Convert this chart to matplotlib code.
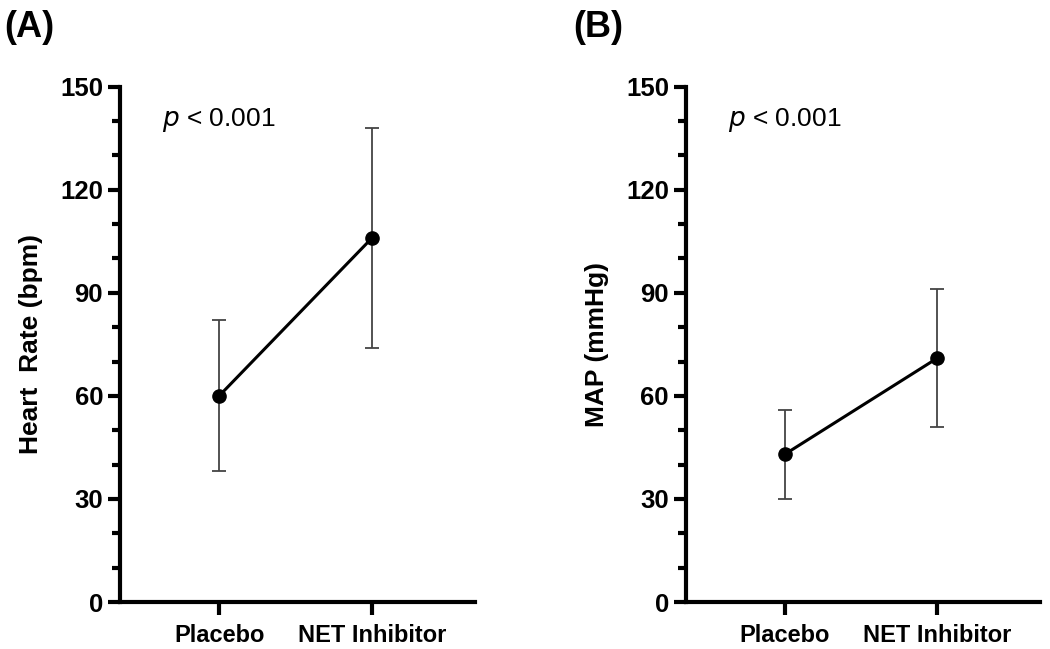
import matplotlib.pyplot as plt
from matplotlib.ticker import MultipleLocator

plt.rcParams["font.family"] = ["Liberation Sans", "DejaVu Sans"]

groups = ["Placebo", "NET Inhibitor"]
hr_mean = [60, 106]
hr_low = [38, 74]
hr_high = [82, 138]
map_mean = [43, 71]
map_low = [30, 51]
map_high = [56, 91]

fig = plt.figure(figsize=(10.5, 6.49), dpi=100)
ax_a = fig.add_axes([0.114, 0.0724, 0.338, 0.794])
ax_b = fig.add_axes([0.653, 0.0724, 0.337, 0.794])

panels = [
    (ax_a, hr_mean, hr_low, hr_high, "Heart  Rate (bpm)", "(A)", 0.004),
    (ax_b, map_mean, map_low, map_high, "MAP (mmHg)", "(B)", 0.546),
]

for ax, mean, low, high, ylab, tag, tx in panels:
    x = list(range(len(groups)))
    err = [[m - l for m, l in zip(mean, low)], [h - m for m, h in zip(mean, high)]]
    ax.errorbar(x, mean, yerr=err, fmt="none", ecolor="#444444", elinewidth=1.3,
                capsize=5, capthick=1.3, zorder=2)
    ax.plot(x, mean, "-o", color="black", lw=2.2, ms=9.5, zorder=3)
    ax.set_xlim(-0.65, 1.67)
    ax.set_ylim(0, 150)
    ax.yaxis.set_major_locator(MultipleLocator(30))
    ax.yaxis.set_minor_locator(MultipleLocator(10))
    ax.set_xticks(x)
    ax.set_xticklabels(groups, fontsize=17, fontweight="bold")
    for lbl in ax.get_yticklabels():
        lbl.set_fontsize(18.5)
        lbl.set_fontweight("bold")
    ax.tick_params(axis="both", which="major", width=3, length=9, pad=3)
    ax.tick_params(axis="y", which="minor", width=3, length=6)
    ax.tick_params(axis="x", which="major", pad=7)
    for s in ["top", "right"]:
        ax.spines[s].set_visible(False)
    for s in ["left", "bottom"]:
        ax.spines[s].set_linewidth(3)
    ax.set_ylabel(ylab, fontsize=19, fontweight="bold", labelpad=12)
    ax.text(0.12, 0.935, "$p$ < 0.001", transform=ax.transAxes, fontsize=19,
            ha="left", va="center")
    fig.text(tx, 0.957, tag, fontsize=26, fontweight="bold", ha="left", va="center")

plt.savefig("out.png", dpi=100)
